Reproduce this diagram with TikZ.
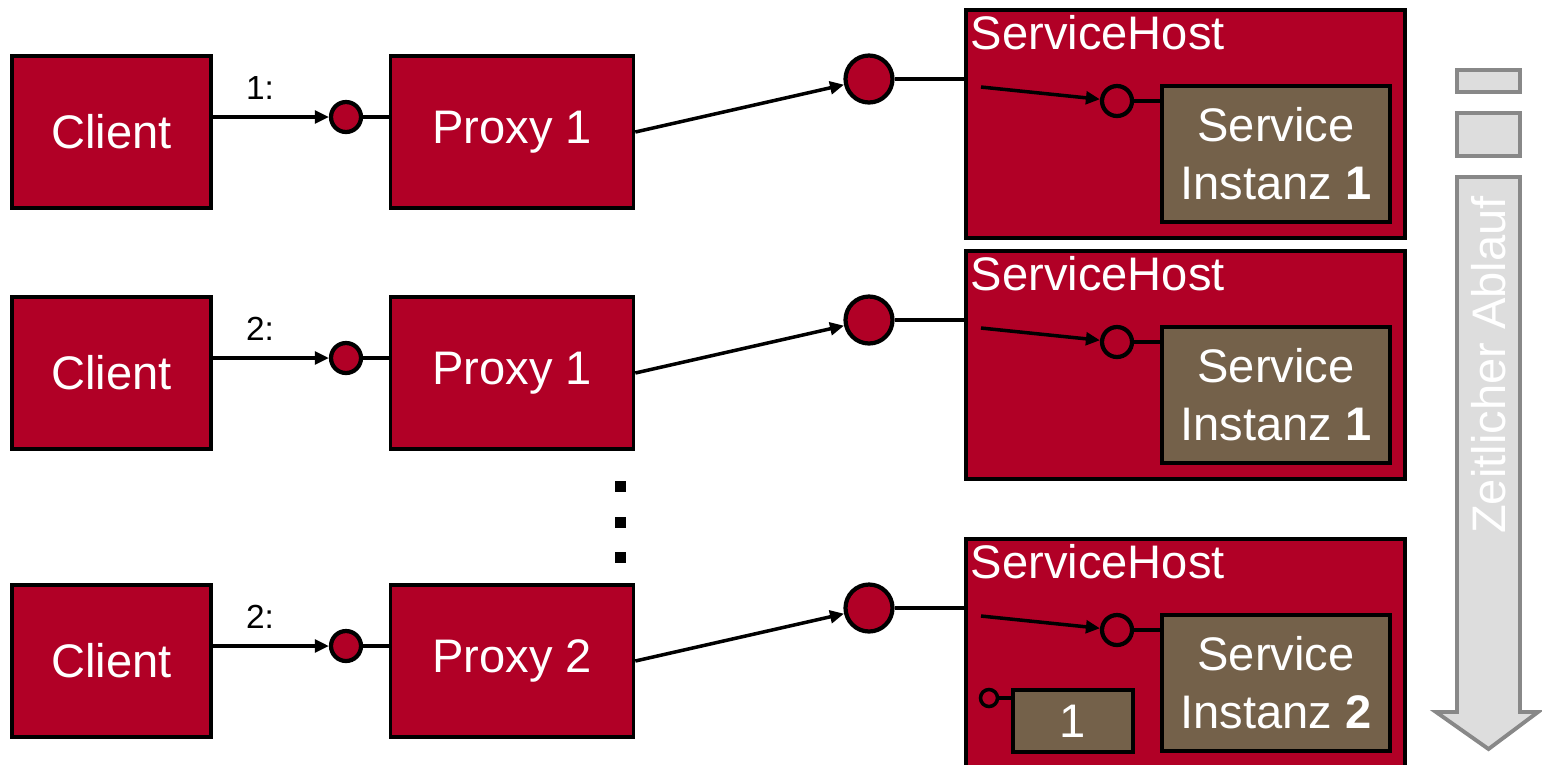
\documentclass[tikz,border=0pt]{standalone}
\usepackage{fontspec}
\setmainfont{Liberation Sans}
\usetikzlibrary{positioning, arrows.meta}
\definecolor{hostred}{RGB}{177,0,38}
\definecolor{instbrown}{RGB}{116,97,74}
\definecolor{timegray}{RGB}{221,221,221}
\definecolor{timeedge}{RGB}{136,136,136}

\begin{document}
\begin{tikzpicture}[
    box/.style={draw, line width=1pt, fill=hostred, text=white, inner sep=0pt,
      font=\fontsize{13.4}{16}\selectfont, minimum height=1.52cm},
    inst/.style={draw, line width=1pt, fill=instbrown, text=white, inner sep=0pt,
      align=center, font=\fontsize{13.4}{16.5}\selectfont},
    port/.style={circle, draw, line width=1.2pt, fill=hostred, inner sep=0pt},
    conn/.style={line width=1pt},
    arr/.style={conn, -{Triangle[length=4pt,width=3.6pt]}},
    timebox/.style={draw=timeedge, fill=timegray, line width=1.1pt}
  ]
  \useasboundingbox (0,0) rectangle (15.42,-7.64);
  % rows: call number, shift, proxy, instance
  \foreach \r/\dy/\lab/\px/\ix in {1/0/1/1/1, 2/2.41/2/1/1, 3/5.29/2/2/2} {
    % client side
    \node[box, minimum width=1.99cm] (client\r) at (1.115,{-1.32-\dy}) {Client};
    \node[box, minimum width=2.43cm, right=1.76cm of client\r] (proxy\r) {Proxy \px};
    \node[port, minimum size=0.30cm] (sc\r) at (3.46,{-1.17-\dy}) {};
    \node[font=\fontsize{9.5}{11}\selectfont] (lab\r) at (2.60,{-0.88-\dy}) {\lab:};
    % service host
    \node[box, minimum width=4.39cm, minimum height=2.28cm] (host\r) at (11.855,{-1.24-\dy}) {};
    \node[anchor=north west, text=white, inner xsep=0.06cm, inner ysep=0.06cm,
      font=\fontsize{13.4}{16}\selectfont] (hname\r) at (host\r.north west) {ServiceHost};
    \node[inst, minimum width=2.28cm, minimum height=1.36cm] (svc\r) at (12.76,{-1.54-\dy})
      {Service\\Instanz \textbf{\ix}};
    \node[port, minimum size=0.30cm] (ic\r) at (11.17,{-1.01-\dy}) {};
    \node[port, minimum size=0.47cm] (big\r) at (8.69,{-0.79-\dy}) {};
    \coordinate (in\r) at (9.81,{-0.87-\dy});
    % connectors
    \draw[arr] (client\r.east |- sc\r) -- (sc\r);
    \draw[conn] (sc\r) -- (proxy\r.west |- sc\r);
    \draw[arr] (proxy\r.east) -- (big\r);
    \draw[conn] (big\r) -- (host\r.west |- big\r);
    \draw[arr] (in\r) -- (ic\r);
    \draw[conn] (ic\r) -- (svc\r.west |- ic\r);
  }
  % old instance in the third host
  \node[inst, minimum width=1.2cm, minimum height=0.62cm] (old) at (10.73,-7.21) {1};
  \node[port, line width=1pt, minimum size=0.17cm] (oldport) at (9.89,-6.98) {};
  \draw[conn] (oldport) -- (old.west |- oldport);
  % dots
  \foreach \y in {-4.865,-5.22,-5.57}
    \fill (6.205,\y) ++(-0.055,-0.055) rectangle +(0.11,0.11);
  % time line
  \draw[timebox] (14.57,-0.70) rectangle (15.20,-0.92);
  \draw[timebox] (14.57,-1.13) rectangle (15.20,-1.56);
  \draw[timebox] (14.57,-1.77) -- (15.20,-1.77) -- (15.20,-7.12) -- (15.38,-7.12)
    -- (14.885,-7.49) -- (14.36,-7.12) -- (14.57,-7.12) -- cycle;
  \node[rotate=90, text=white, font=\fontsize{13.4}{16}\selectfont] (zeit) at (14.885,-3.65) {Zeitlicher Ablauf};
\end{tikzpicture}
\end{document}
